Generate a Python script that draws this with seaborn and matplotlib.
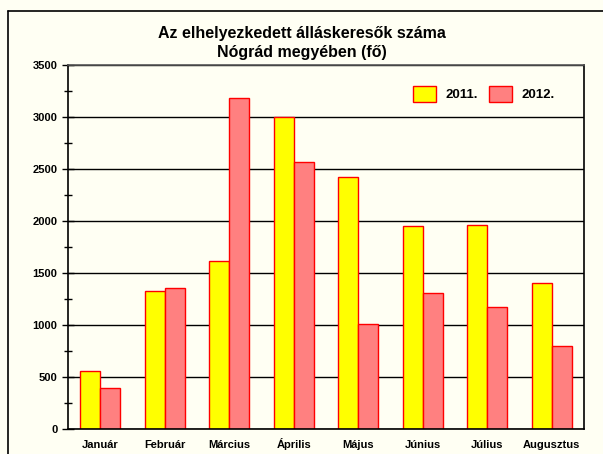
import pandas as pd
import matplotlib.pyplot as plt
import seaborn as sns
from matplotlib.ticker import MultipleLocator
from matplotlib.lines import Line2D

months = ["Január", "Február", "Március", "Április", "Május", "Június", "Július", "Augusztus"]
years = ["2011.", "2012."]
values_2011 = [558, 1328, 1619, 2996, 2424, 1949, 1958, 1406]
values_2012 = [394, 1357, 3180, 2569, 1008, 1309, 1173, 795]

df = pd.DataFrame({
    "month": months * 2,
    "year": [years[0]] * len(months) + [years[1]] * len(months),
    "value": values_2011 + values_2012,
})

bg = "#FFFFF3"
sns.set_style("white")
plt.rcParams["font.family"] = ["Liberation Sans", "DejaVu Sans"]
plt.rcParams["text.color"] = "black"
plt.rcParams["xtick.color"] = "black"
plt.rcParams["ytick.color"] = "black"

fig = plt.figure(figsize=(6.03, 4.54), dpi=100, facecolor=bg)
ax = fig.add_axes([68 / 603, 1 - 429 / 454, 516 / 603, 364 / 454])
ax.set_facecolor(bg)

sns.barplot(data=df, x="month", y="value", hue="year", ax=ax,
            palette=["#FFFF00", "#FF8080"], edgecolor="#FF0000",
            linewidth=1.0, width=0.62, gap=0, saturation=1)

ax.set_xlim(-0.5, 7.5)
ax.set_ylim(0, 3500)
ax.yaxis.set_major_locator(MultipleLocator(500))
ax.yaxis.set_minor_locator(MultipleLocator(250))
ax.grid(axis="y", which="major", color="black", linewidth=1.0)
ax.set_axisbelow(True)
ax.tick_params(axis="y", which="both", direction="inout", left=True, length=8, width=1, color="black")
ax.tick_params(axis="y", which="minor", length=6)
ax.tick_params(axis="x", bottom=False, pad=10)
for lab in ax.get_xticklabels():
    lab.set_verticalalignment("baseline")
for lab in ax.get_xticklabels() + ax.get_yticklabels():
    lab.set_fontweight("bold")
    lab.set_fontsize(8)
    lab.set_color("black")
ax.set_xlabel("")
ax.set_ylabel("")
for s in ax.spines.values():
    s.set_color("black")
    s.set_linewidth(1.2)
ax.spines["top"].set_color("#555555")

leg = ax.legend(loc="center left", bbox_to_anchor=(0.645, 0.92), ncol=2, frameon=False,
                prop={"weight": "bold", "size": 9.5}, handlelength=1.75, handleheight=1.45,
                columnspacing=0.9, handletextpad=0.7)
for t in leg.get_texts():
    t.set_color("black")

fig.text(0.5, 1 - 43 / 454, "Az elhelyezkedett álláskeresők száma\nNógrád megyében (fő)",
         ha="center", va="center", fontsize=11.5, fontweight="bold", linespacing=1.3,
         color="black")

# outer chart frame: only top and left edges fall inside the image
fy = 1 - 11 / 454
fx = 8 / 603
fig.add_artist(Line2D([fx, 1.0], [fy, fy], transform=fig.transFigure, color="black", linewidth=1.2))
fig.add_artist(Line2D([fx, fx], [0.0, fy], transform=fig.transFigure, color="black", linewidth=1.2))

fig.savefig("out.png", dpi=100, facecolor=bg)
